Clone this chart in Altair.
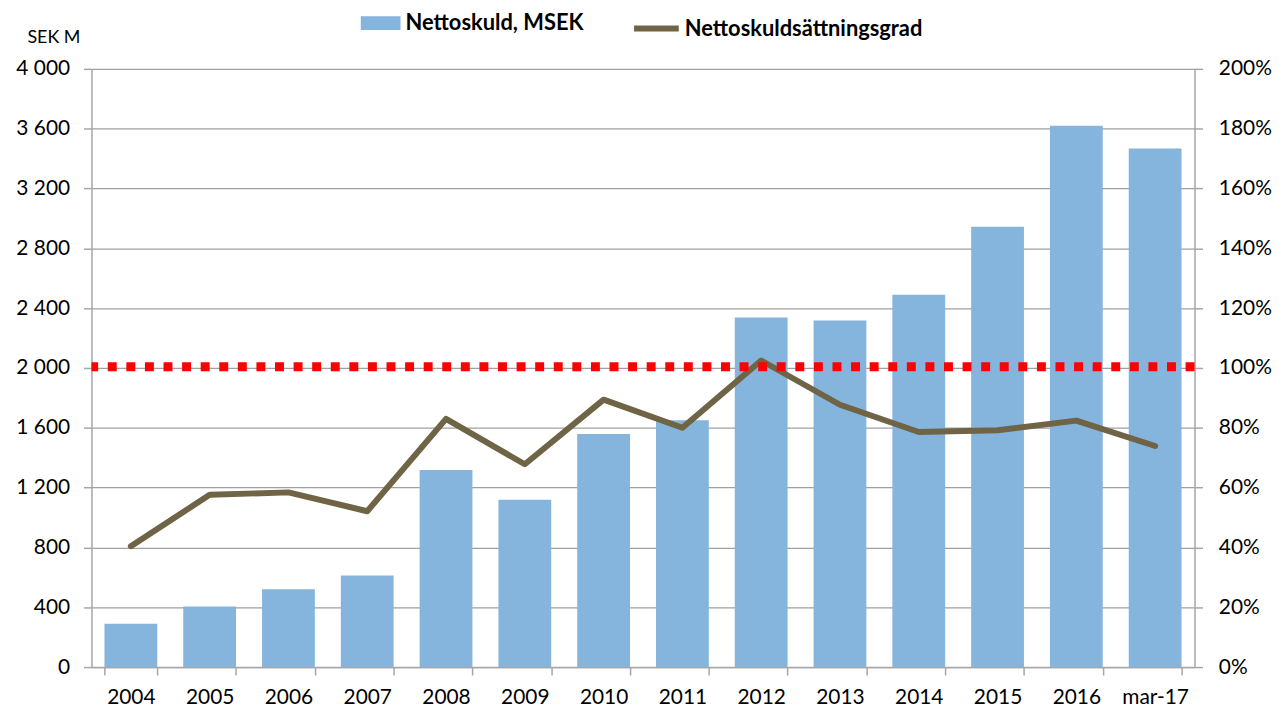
import altair as alt
import pandas as pd

categories = ["2004", "2005", "2006", "2007", "2008", "2009", "2010",
              "2011", "2012", "2013", "2014", "2015", "2016", "mar-17"]
net_debt = [290, 405, 520, 612, 1318, 1118, 1558, 1650, 2337, 2317, 2490, 2945, 3620, 3468]
gearing = [0.404, 0.576, 0.584, 0.521, 0.83, 0.678, 0.894, 0.80, 1.025, 0.877, 0.786, 0.792, 0.824, 0.739]
target = [1.004]

bar_name = "Nettoskuld, MSEK"
line_name = "Nettoskuldsättningsgrad"

df = pd.DataFrame({"cat": categories, "debt": net_debt, "gear": gearing,
                   "s1": bar_name, "s2": line_name})
df_t = pd.DataFrame({"gear": target})

FONT = "Lato"
xenc = alt.X("cat:N", sort=categories,
             scale=alt.Scale(paddingInner=0.33, paddingOuter=0.165),
             axis=alt.Axis(title=None, labelAngle=0, tickBand="extent", tickSize=8,
                           labelFontSize=21, labelPadding=12, grid=False))

right_axis = alt.Axis(title=None, orient="right", values=[i / 10 for i in range(0, 21, 2)],
                      format=".0%", tickSize=8, labelFontSize=21, labelPadding=16, grid=False)

bars = alt.Chart(df).mark_bar(color="#85b4dc").encode(
    x=xenc,
    y=alt.Y("debt:Q", scale=alt.Scale(domain=[0, 4000]),
            axis=alt.Axis(title="SEK M", values=list(range(0, 4001, 400)),
                          labelExpr="replace(format(datum.value, ','), ',', ' ')",
                          titleAngle=0, titleX=-65, titleY=-32, titleAlign="left",
                          titleBaseline="middle", titleFontSize=18, titleFontWeight="normal",
                          tickSize=8, labelFontSize=21, labelPadding=14, grid=True)),
    color=alt.Color("s1:N", scale=alt.Scale(domain=[bar_name], range=["#85b4dc"]),
                    legend=alt.Legend(title=None, orient="none", legendX=271, legendY=-66,
                                      symbolType="M-1,-0.35L1,-0.35L1,0.35L-1,0.35Z",
                                      symbolSize=1600, symbolStrokeWidth=0, symbolOpacity=1,
                                      labelFontSize=22, labelFontWeight="bold", labelLimit=0,
                                      labelColor="#000000", padding=0, labelOffset=5)),
)

line = alt.Chart(df).mark_line(strokeWidth=6, strokeCap="round", strokeJoin="round").encode(
    x=alt.X("cat:N", sort=categories),
    y=alt.Y("gear:Q", scale=alt.Scale(domain=[0, 2]), axis=right_axis),
    stroke=alt.Stroke("s2:N", scale=alt.Scale(domain=[line_name], range=["#6f6446"]),
                      legend=alt.Legend(title=None, orient="none", legendX=543, legendY=-66,
                                        symbolType="stroke", symbolSize=2025, symbolStrokeWidth=6,
                                        labelFontSize=22, labelFontWeight="bold", labelLimit=0,
                                        labelColor="#000000", padding=0, labelOffset=3)),
)

rule = alt.Chart(df_t).mark_rule(color="#ff0000", strokeWidth=9, strokeDash=[9, 9.7]).encode(
    y=alt.Y("gear:Q", scale=alt.Scale(domain=[0, 2]), axis=right_axis)
)

chart = alt.layer(bars, alt.layer(line, rule)).resolve_scale(
    y="independent", color="independent", stroke="independent"
).properties(
    width=1110, height=602,
    autosize=alt.AutoSizeParams(type="none"),
    padding={"left": 84, "top": 59, "right": 84, "bottom": 46},
).configure_view(stroke=None).configure_axis(
    labelFont=FONT, titleFont=FONT, labelColor="#000000", titleColor="#000000",
    domainColor="#a6a6a6", tickColor="#a6a6a6", gridColor="#a0a0a0",
    domainWidth=1.5, tickWidth=1.5, gridWidth=1.2,
).configure_legend(labelFont=FONT)

chart.save("out.html", embed_options={"renderer": "svg", "actions": False})
